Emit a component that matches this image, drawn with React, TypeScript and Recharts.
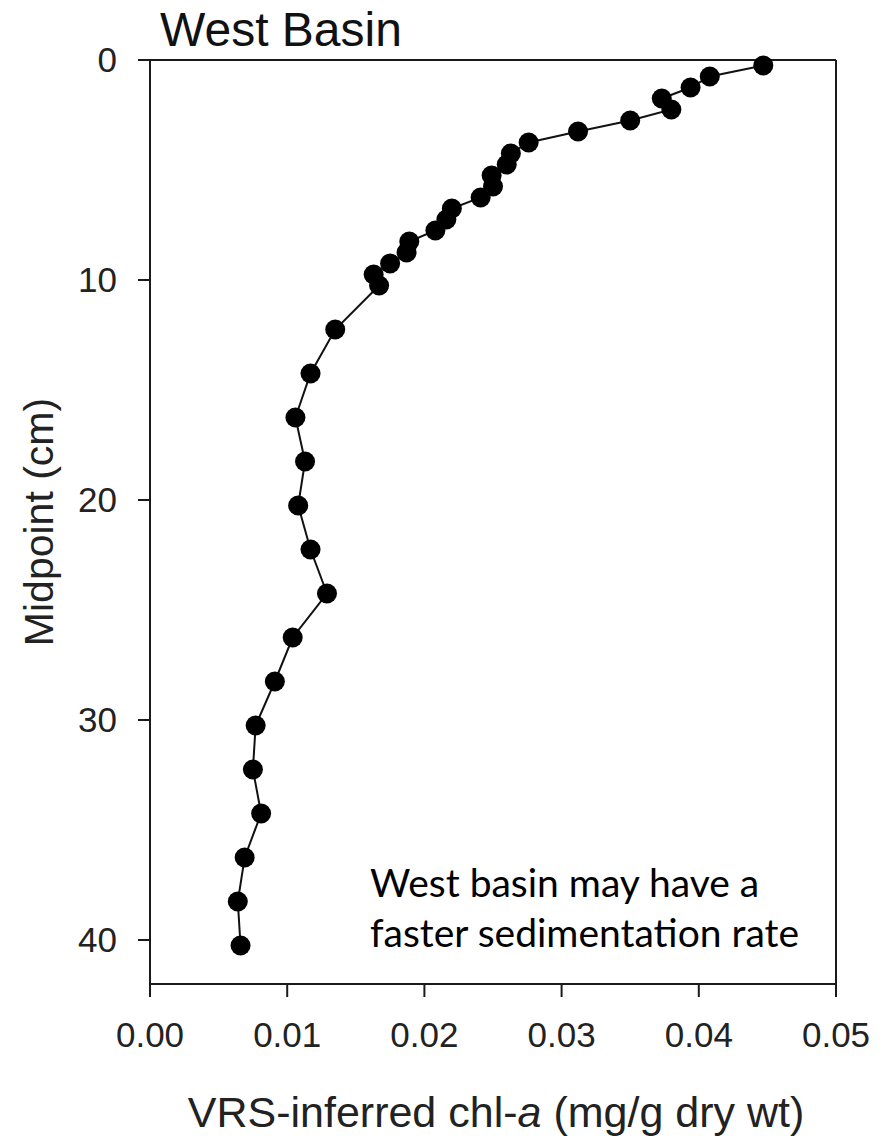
import React from 'react';
import {
  Label,
  ReferenceLine,
  Scatter,
  ScatterChart,
  XAxis,
  YAxis,
} from 'recharts';

// core midpoints (cm) and VRS-inferred chl-a (mg/g dry wt)
const depths = [
  0.25, 0.75, 1.25, 1.75, 2.25, 2.75, 3.25, 3.75, 4.25, 4.75, 5.25, 5.75, 6.25, 6.75,
  7.25, 7.75, 8.25, 8.75, 9.25, 9.75, 10.25, 12.25, 14.25, 16.25, 18.25, 20.25, 22.25,
  24.25, 26.25, 28.25, 30.25, 32.25, 34.25, 36.25, 38.25, 40.25,
];
const chlA = [
  0.0447, 0.0408, 0.0394, 0.0373, 0.038, 0.035, 0.0312, 0.0276, 0.0263, 0.026, 0.0249,
  0.025, 0.0241, 0.022, 0.0216, 0.0208, 0.0189, 0.0187, 0.0175, 0.0163, 0.0167, 0.0135,
  0.0117, 0.0106, 0.0113, 0.0108, 0.0117, 0.0129, 0.0104, 0.0091, 0.0077, 0.0075,
  0.0081, 0.0069, 0.0064, 0.0066,
];

const xTicks = [0, 0.01, 0.02, 0.03, 0.04, 0.05];
const yTicks = [0, 10, 20, 30, 40];

const title = 'West Basin';
const note = ['West basin may have a', 'faster sedimentation rate'];

const data = depths.map((d, i) => ({ depth: d, chl: chlA[i] }));

const INK = '#1a1a1a';
const SANS = '"Liberation Sans", Arial, sans-serif';
const TICK = { fontSize: 35, fill: '#222', fontFamily: SANS };

const W = 876;
const H = 1130;

const Dot = (p: any) => <circle cx={p.cx} cy={p.cy} r={10} fill="#000" />;

export default function App() {
  return (
    <div style={{ position: 'relative', width: W, height: H }}>
      <ScatterChart width={W} height={H} margin={{ top: 52, right: 48, bottom: 94, left: 0 }}>
        <XAxis
          type="number"
          dataKey="chl"
          domain={[0, 0.05]}
          ticks={xTicks}
          tickFormatter={(v: number) => v.toFixed(2)}
          tick={TICK}
          tickSize={13}
          tickMargin={25}
          height={60}
          stroke={INK}
          strokeWidth={2}
        >
          <Label
            content={(props: any) => {
              const vb = props.viewBox;
              return (
                <text
                  x={vb.x + vb.width / 2 + 3}
                  y={vb.y + 143}
                  textAnchor="middle"
                  fontSize={43}
                  fontFamily={SANS}
                  fill="#222"
                >
                  VRS-inferred chl-<tspan fontStyle="italic">a</tspan> (mg/g dry wt)
                </text>
              );
            }}
          />
        </XAxis>
        <YAxis
          type="number"
          dataKey="depth"
          domain={[0, 42]}
          reversed
          ticks={yTicks}
          tick={TICK}
          tickSize={12}
          tickMargin={21}
          width={142}
          stroke={INK}
          strokeWidth={2}
        >
          <Label
            content={() => (
              <text
                x={45}
                y={514}
                transform="rotate(-90, 45, 514)"
                textAnchor="middle"
                fontSize={41}
                fontFamily={SANS}
                fill="#222"
              >
                Midpoint (cm)
              </text>
            )}
          />
        </YAxis>
        {/* close the box on top and right */}
        <ReferenceLine y={0} stroke={INK} strokeWidth={2} />
        <ReferenceLine x={0.05} stroke={INK} strokeWidth={2} />
        <Scatter
          data={data}
          line={{ stroke: '#111', strokeWidth: 2 }}
          lineType="joint"
          shape={Dot}
          isAnimationActive={false}
        />
      </ScatterChart>
      <svg
        width={W}
        height={H}
        style={{ position: 'absolute', left: 0, top: 0, pointerEvents: 'none', overflow: 'visible' }}
      >
        <text x={152} y={38} fontSize={48} fontFamily={SANS} fill="#111">
          {title}
        </text>
        <text fontSize={39} fontFamily="Lato, sans-serif" fill="#000">
          <tspan x={362} y={889}>{note[0]}</tspan>
          <tspan x={362} y={939}>{note[1]}</tspan>
        </text>
      </svg>
    </div>
  );
}
